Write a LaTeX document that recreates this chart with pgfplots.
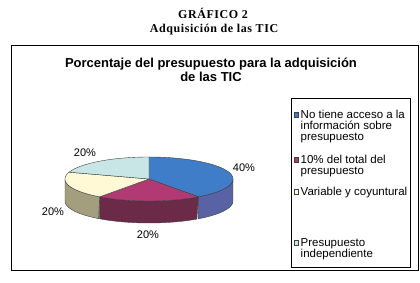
\documentclass[border=0pt]{standalone}
\usepackage{pgfplots}
\pgfplotsset{compat=1.18}
\usepackage{pgfplotstable}
\usepackage{fontspec}
\setmainfont{Liberation Sans}
\newfontfamily\serifb[LetterSpace=5]{Liberation Serif}

\definecolor{bluetop}{HTML}{3F7DC8}
\definecolor{blueside}{HTML}{5A62A6}
\definecolor{pinktop}{HTML}{B23A74}
\definecolor{pinkside}{HTML}{6A2A48}
\definecolor{yeltop}{HTML}{FFF9D6}
\definecolor{yelside}{HTML}{A39E7E}
\definecolor{lbtop}{HTML}{C8E6E6}
\definecolor{edgecol}{HTML}{404040}

\pgfplotstableread{
v
40
20
20
20
}\piedata

\def\cx{149}
\def\cy{104}
\def\rx{84}
\def\ry{22}
\def\dep{22}

\newcommand{\sidewall}[3]{%
  \addplot[fill=#1, draw=edgecol, line width=0.4pt, domain=0:2, samples=121, variable=\t]
  ({\cx+\rx*cos((\t<1.0001) ? (#2+(#3-#2)*\t) : (#3-(#3-#2)*(\t-1)))},
   {\cy+\ry*sin((\t<1.0001) ? (#2+(#3-#2)*\t) : (#3-(#3-#2)*(\t-1))) - ((\t<1.0001) ? 0 : \dep)}) -- cycle;
}
\newcommand{\topsector}[3]{%
  \addplot[fill=#1, draw=edgecol, line width=0.4pt, domain=#2:#3, samples=60, variable=\t]
  ({\cx+\rx*cos(\t)},{\cy+\ry*sin(\t)}) -- (axis cs:\cx,\cy) -- cycle;
}

\begin{document}
\begin{tikzpicture}
\useasboundingbox (0,0) rectangle (420pt,283pt);
\pgfplotstablegetelem{0}{v}\of\piedata \pgfmathsetmacro\vA{\pgfplotsretval}
\pgfplotstablegetelem{1}{v}\of\piedata \pgfmathsetmacro\vB{\pgfplotsretval}
\pgfplotstablegetelem{2}{v}\of\piedata \pgfmathsetmacro\vC{\pgfplotsretval}
\pgfplotstablegetelem{3}{v}\of\piedata \pgfmathsetmacro\vD{\pgfplotsretval}
\pgfmathsetmacro\aA{90}
\pgfmathsetmacro\aB{\aA-3.6*\vA}
\pgfmathsetmacro\aC{\aB-3.6*\vB}
\pgfmathsetmacro\aD{\aC-3.6*\vC}
\pgfmathsetmacro\aE{\aD-3.6*\vD}
\begin{axis}[x=1pt, y=1pt, xmin=0, xmax=420, ymin=0, ymax=283,
  hide axis, clip=false, anchor=origin, at={(0,0)}]
% frames
\draw[black, line width=0.9pt] (axis cs:11.5,13) rectangle (axis cs:418,238);
\draw[black, line width=0.9pt] (axis cs:291.5,16) rectangle (axis cs:410,185);
% side walls (front only)
\sidewall{blueside}{\aB}{0}
\sidewall{pinkside}{\aC}{\aB}
\sidewall{yelside}{-180}{\aC}
% tops
\topsector{bluetop}{\aB}{\aA}
\topsector{pinktop}{\aC}{\aB}
\topsector{yeltop}{\aD}{\aC}
\topsector{lbtop}{\aE}{\aD}
% data labels
\node[font=\fontsize{11}{12}\selectfont] at (axis cs:244,115) {40\%};
\node[font=\fontsize{11}{12}\selectfont] at (axis cs:148,48) {20\%};
\node[font=\fontsize{11}{12}\selectfont] at (axis cs:53,71) {20\%};
\node[font=\fontsize{11}{12}\selectfont] at (axis cs:85,130) {20\%};
% titles
\node[anchor=base, font=\serifb\bfseries\fontsize{12}{13}\selectfont] at (axis cs:213,264) {GRÁFICO 2};
\node[anchor=base, font=\serifb\bfseries\fontsize{12}{13}\selectfont] at (axis cs:214,250) {Adquisición de las TIC};
\node[anchor=base, font=\bfseries\fontsize{13}{15}\selectfont] at (axis cs:211,215) {Porcentaje del presupuesto para la adquisición};
\node[anchor=base, font=\bfseries\fontsize{13}{15}\selectfont] at (axis cs:211,201) {de las TIC};
% legend
\tikzset{lt/.style={anchor=base west, inner sep=0pt, font=\fontsize{11.5}{12}\selectfont}}
\filldraw[fill=bluetop, draw=edgecol, line width=0.4pt] (axis cs:293.8,166) rectangle (axis cs:298.2,170.4);
\node[lt] at (axis cs:300.5,164.5) {No tiene acceso a la};
\node[lt] at (axis cs:300.5,153.5) {información sobre};
\node[lt] at (axis cs:300.5,142.5) {presupuesto};
\filldraw[fill=pinktop, draw=edgecol, line width=0.4pt] (axis cs:293.8,121) rectangle (axis cs:298.2,125.4);
\node[lt] at (axis cs:300.5,119.5) {10\% del total del};
\node[lt] at (axis cs:300.5,108.5) {presupuesto};
\filldraw[fill=yeltop, draw=edgecol, line width=0.4pt] (axis cs:293.8,89) rectangle (axis cs:298.2,93.4);
\node[lt] at (axis cs:300.5,87.5) {Variable y coyuntural};
\filldraw[fill=lbtop, draw=edgecol, line width=0.4pt] (axis cs:293.8,38) rectangle (axis cs:298.2,42.4);
\node[lt] at (axis cs:300.5,36.5) {Presupuesto};
\node[lt] at (axis cs:300.5,25.5) {independiente};
\end{axis}
\end{tikzpicture}
\end{document}
